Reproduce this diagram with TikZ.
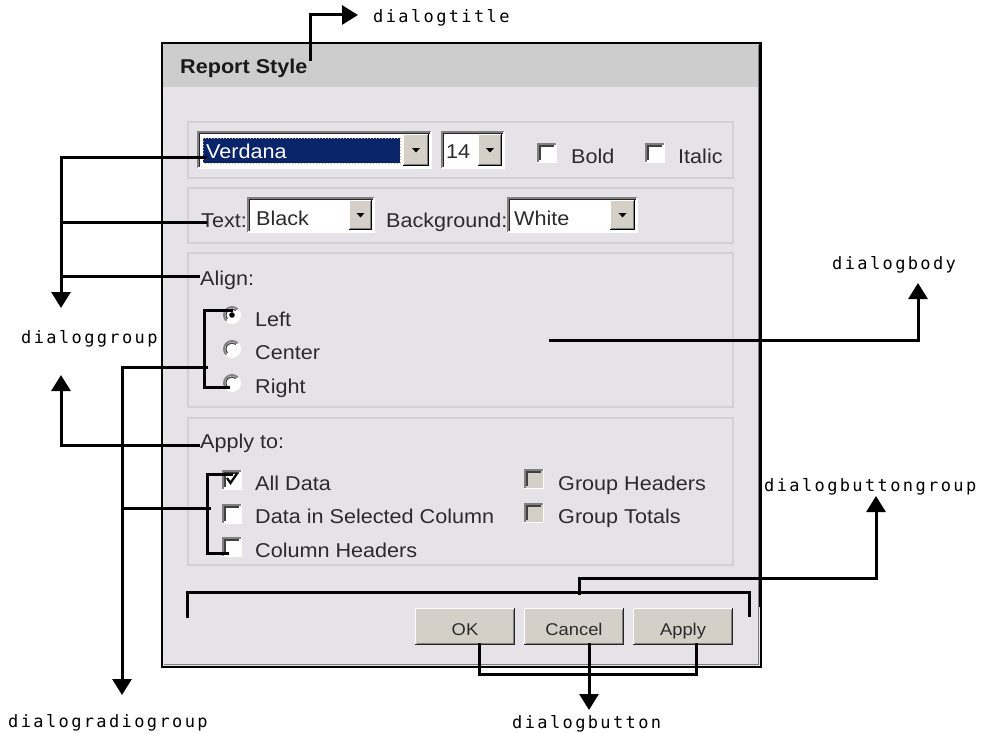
\documentclass[tikz,border=0pt]{standalone}
\usepackage{fontspec}
\setmainfont{Liberation Sans}
\newfontfamily\uifont{Liberation Sans}[FakeStretch=1.08]
\newfontfamily\tagfont{DejaVu Sans Mono}[LetterSpace=14]
\usetikzlibrary{arrows.meta}

\definecolor{dlgbody}{HTML}{E6E3E8}
\definecolor{dlgtitle}{HTML}{CDCDCD}
\definecolor{etch}{HTML}{D2CFD5}
\definecolor{btnface}{HTML}{D4D0C8}
\definecolor{shadowgray}{HTML}{808080}
\definecolor{uitext}{HTML}{2B2B2B}
\definecolor{selblue}{HTML}{0A246A}
\definecolor{focusdot}{HTML}{C9B871}

\tikzset{
  tagline/.style={line width=3pt, black, line join=miter},
  tagarrow/.style={tagline, -{Triangle[width=19pt,length=16pt]}},
  taglabel/.style={font=\tagfont\fontsize{17}{20}\selectfont, inner sep=0pt, anchor=base west},
  uitxt/.style={font=\uifont\fontsize{20}{24}\selectfont, text=uitext, inner sep=0pt, anchor=base west},
  btntxt/.style={font=\uifont\fontsize{17}{20}\selectfont, text=uitext, inner sep=0pt, anchor=base},
  grpbox/.style={draw=etch, line width=2pt},
}

% sunken white field: x1,y1,x2,y2
\newcommand\sunkenbox[4]{%
  \fill[white] (#1,#2) rectangle (#3,#4);
  \draw[shadowgray, line width=1.5pt] (#1,#4) -- (#1,#2) -- (#3,#2);
  \draw[black!85, line width=1pt] (#1+1.8,#4-1.5) -- (#1+1.8,#2+1.8) -- (#3-1.5,#2+1.8);
  \draw[white, line width=1.5pt] (#1,#4) -- (#3,#4) -- (#3,#2);
}
% raised drop-down button with its small triangle
\newcommand\dropbtn[4]{%
  \fill[btnface] (#1,#2) rectangle (#3,#4);
  \draw[white, line width=1pt] (#1+0.5,#4-1) -- (#1+0.5,#2+0.5) -- (#3-1,#2+0.5);
  \draw[shadowgray, line width=1pt] (#1+1,#4-1.5) -- (#3-1.5,#4-1.5) -- (#3-1.5,#2+1);
  \draw[black, line width=1pt] (#1,#4-0.5) -- (#3-0.5,#4-0.5) -- (#3-0.5,#2);
  \fill[black] ({(#1+#3)/2-4},{(#2+#4)/2-2}) -- ({(#1+#3)/2+4},{(#2+#4)/2-2}) -- ({(#1+#3)/2},{(#2+#4)/2+2.5}) -- cycle;
}
% check box: top-left corner x,y and face colour
\newcommand\chkbox[3]{%
  \fill[#3] (#1,#2) rectangle (#1+19,#2+19);
  \draw[shadowgray, line width=2pt] (#1+1,#2+19) -- (#1+1,#2+1) -- (#1+19,#2+1);
  \draw[black!75, line width=1.5pt] (#1+3,#2+17) -- (#1+3,#2+3) -- (#1+17,#2+3);
  \draw[white, line width=1pt] (#1,#2+19) -- (#1+19,#2+19) -- (#1+19,#2);
}
% radio button: centre x,y
\newcommand\radiobtn[2]{%
  \fill[white] (#1,#2) circle[radius=9];
  \draw[shadowgray, line width=2pt] (#1,#2) ++(135:8) arc[start angle=135, end angle=315, radius=8];
  \draw[black!75, line width=1.2pt] (#1,#2) ++(140:6) arc[start angle=140, end angle=310, radius=6];
}
% push button: x1,y1,x2,y2
\newcommand\pushbtn[4]{%
  \fill[btnface] (#1,#2) rectangle (#3,#4);
  \draw[white, line width=1.2pt] (#1+0.6,#4-1) -- (#1+0.6,#2+0.6) -- (#3-1,#2+0.6);
  \draw[shadowgray, line width=1.2pt] (#1+1.5,#4-1.8) -- (#3-1.8,#4-1.8) -- (#3-1.8,#2+1.5);
  \draw[black!85, line width=1.2pt] (#1,#4-0.6) -- (#3-0.6,#4-0.6) -- (#3-0.6,#2);
}

\begin{document}
\begin{tikzpicture}[x=1pt, y=-1pt]
\fill[white] (0,0) rectangle (987,733);
\useasboundingbox (0,0) rectangle (987,733);

% ---- dialog window ----
\fill[dlgbody] (162,43) rectangle (761,667);
\fill[dlgtitle] (162,43) rectangle (761,87);
\draw[shadowgray, line width=1pt] (164,664.5) -- (758.5,664.5) -- (758.5,45);
\draw[black, line width=2pt] (162,43) rectangle (761,667);
\node[uitxt, font=\uifont\bfseries\fontsize{20}{24}\selectfont, text=black!90] (title) at (180,74) {Report Style};

% group frames
\draw[grpbox] (188,122) rectangle (733,178);
\draw[grpbox] (188,188) rectangle (733,243);
\draw[grpbox] (188,253) rectangle (733,407);
\draw[grpbox] (188,418) rectangle (733,565);

% font row
\sunkenbox{198}{132}{431}{168}
\dropbtn{403}{134}{429}{166}
\fill[selblue] (203,138) rectangle (400,163);
\draw[focusdot, dotted, line width=1pt] (203,138) rectangle (400,163);
\node[uitxt, text=white] (fontname) at (206,158) {Verdana};
\sunkenbox{442}{132}{504}{168}
\dropbtn{478}{134}{502}{166}
\node[uitxt] (fontsize) at (446,158) {14};
\chkbox{537}{143}{white}
\node[uitxt] (bold) at (571,163) {Bold};
\chkbox{645}{143}{white}
\node[uitxt] (italic) at (678,163) {Italic};

% colour row
\node[uitxt] (textlbl) at (201,227) {Text:};
\sunkenbox{248}{198}{374}{232}
\dropbtn{349}{200}{372}{230}
\node[uitxt] (textcol) at (256,225) {Black};
\node[uitxt] (bglbl) at (386,227) {Background:};
\sunkenbox{508}{198}{637}{232}
\dropbtn{610}{200}{635}{230}
\node[uitxt] (bgcol) at (514,225) {White};

% alignment
\node[uitxt] (align) at (200,285) {Align:};
\radiobtn{232}{315}
\fill[black] (232,315) circle[radius=2.8];
\radiobtn{232}{349}
\radiobtn{232}{383}
\node[uitxt] (left) at (255,326) {Left};
\node[uitxt] (center) at (255,359) {Center};
\node[uitxt] (right) at (255,393) {Right};

% apply to
\node[uitxt] (applyto) at (200,448) {Apply to:};
\chkbox{222}{470}{white}
\draw[black, line width=2.2pt] (227,478) -- (230.5,483) -- (237,473.5);
\chkbox{222}{504}{white}
\chkbox{222}{537}{white}
\node[uitxt] (alldata) at (255,490) {All Data};
\node[uitxt] (selcol) at (255,523) {Data in Selected Column};
\node[uitxt] (colhead) at (255,557) {Column Headers};
\chkbox{524}{469}{btnface}
\chkbox{524}{503}{btnface}
\node[uitxt] (grphead) at (558,490) {Group Headers};
\node[uitxt] (grptot) at (558,523) {Group Totals};

% buttons
\pushbtn{415}{608}{515}{645}
\pushbtn{524}{608}{624}{645}
\pushbtn{633}{608}{733}{645}
\node[btntxt] (ok) at (465,635) {OK};
\node[btntxt] (cancel) at (574,635) {Cancel};
\node[btntxt] (apply) at (683,635) {Apply};

% ---- callouts ----
\node[taglabel] (lbltitle) at (373,23) {dialogtitle};
\node[taglabel] (lblgroup) at (21,343) {dialoggroup};
\node[taglabel] (lblradio) at (8,727) {dialogradiogroup};
\node[taglabel] (lblbody) at (832,269) {dialogbody};
\node[taglabel] (lblbgroup) at (764,491) {dialogbuttongroup};
\node[taglabel] (lblbutton) at (512,728) {dialogbutton};

% dialogtitle
\coordinate (tfoot) at (310,61);
\coordinate (tbend) at (310,15);
\coordinate (ttip) at (358,15);
\draw[tagarrow] (tfoot) -- (tbend) -- (ttip);

% dialoggroup
\coordinate (gv) at (207,157);
\coordinate (gtop) at (61,157);
\coordinate (gtip) at (61,308);
\coordinate (gt) at (207,222);
\coordinate (gtj) at (61,222);
\coordinate (ga) at (200,276);
\coordinate (gaj) at (61,276);
\coordinate (gp) at (200,445);
\coordinate (gpj) at (61,445);
\coordinate (gtip2) at (61,375);
\draw[tagarrow] (gv) -- (gtop) -- (gtip);
\draw[tagline] (gtj) -- (gt);
\draw[tagline] (gaj) -- (ga);
\draw[tagarrow] (gp) -- (gpj) -- (gtip2);

% dialogradiogroup
\coordinate (ra) at (233,310);
\coordinate (rb) at (204,310);
\coordinate (rc) at (204,387);
\coordinate (rd) at (230,387);
\coordinate (rm) at (208,367);
\coordinate (rj) at (122,367);
\coordinate (rtip) at (122,695);
\coordinate (ca) at (233,474);
\coordinate (cb) at (207,474);
\coordinate (cc) at (207,553);
\coordinate (cd) at (229,553);
\coordinate (cm) at (211,508);
\coordinate (cj) at (122,508);
\draw[tagline] (ra) -- (rb) -- (rc) -- (rd);
\draw[tagline] (ca) -- (cb) -- (cc) -- (cd);
\draw[tagarrow] (rm) -- (rj) -- (rtip);
\draw[tagline] (cm) -- (cj);

% dialogbody
\coordinate (bs) at (549,340);
\coordinate (bj) at (918,340);
\coordinate (btip) at (918,283);
\draw[tagarrow] (bs) -- (bj) -- (btip);

% dialogbuttongroup
\coordinate (ka) at (187,618);
\coordinate (kb) at (187,592);
\coordinate (kc) at (749,592);
\coordinate (kd) at (749,617);
\coordinate (km) at (579,595);
\coordinate (kj) at (579,578);
\coordinate (kk) at (876,578);
\coordinate (ktip) at (876,496);
\coordinate (edgetop) at (760,43);
\coordinate (edgebot) at (760,607);
\draw[tagline] (ka) -- (kb) -- (kc) -- (kd);
\draw[tagarrow] (km) -- (kj) -- (kk) -- (ktip);
\draw[tagline] (edgetop) -- (edgebot);

% dialogbutton
\coordinate (oa) at (479,643);
\coordinate (ob) at (479,674);
\coordinate (oc) at (696,674);
\coordinate (od) at (696,643);
\coordinate (om) at (589,643);
\coordinate (otip) at (589,710);
\draw[tagline] (oa) -- (ob) -- (oc) -- (od);
\draw[tagarrow] (om) -- (otip);
\end{tikzpicture}
\end{document}
